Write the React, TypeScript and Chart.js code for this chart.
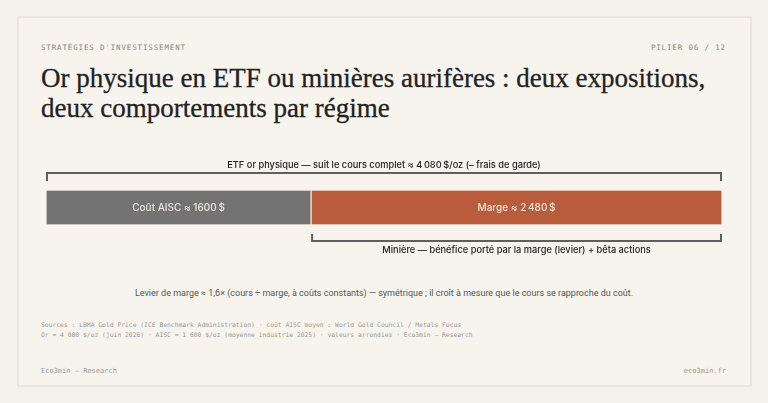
import React, { useEffect, useRef } from "react";
import { Chart, registerables } from "chart.js";

Chart.register(...registerables);

const segmentLabels = ["Coût AISC ≈ 1600\u202F$", "Marge ≈ 2\u202F480\u202F$"];
const segmentValues = [1600, 2480];
const segmentColors = ["#737373", "#b85c3c"];
const goldPrice = 4080;
const topBracketLabel = "ETF or physique — suit le cours complet ≈ 4\u202F080\u202F$/oz (– frais de garde)";
const bottomBracketLabel = "Minière — bénéfice porté par la marge (levier) + bêta actions";

const SANS = "Inter, 'Noto Sans', sans-serif";
const MONO = "'DejaVu Sans Mono', 'Liberation Mono', monospace";

const annotPlugin = {
  id: "annot",
  afterDatasetsDraw(chart: any) {
    const ctx = chart.ctx;
    const x = chart.scales.x;
    const area = chart.chartArea;
    ctx.save();
    ctx.font = `500 10px ${SANS}`;
    ctx.textAlign = "center";
    ctx.textBaseline = "middle";
    ctx.fillStyle = "#ece4da";
    let acc = 0;
    segmentValues.forEach((v, i) => {
      const cx = (x.getPixelForValue(acc) + x.getPixelForValue(acc + v)) / 2;
      ctx.fillText(segmentLabels[i], cx, (area.top + area.bottom) / 2);
      acc += v;
    });
    ctx.strokeStyle = "#5e5e5e";
    ctx.lineWidth = 2;
    ctx.lineCap = "butt";
    const x0 = x.getPixelForValue(0);
    const x1 = x.getPixelForValue(goldPrice);
    const xm = x.getPixelForValue(segmentValues[0]);
    const yt = area.top - 17;
    ctx.beginPath();
    ctx.moveTo(x0 + 1, yt + 8);
    ctx.lineTo(x0 + 1, yt);
    ctx.lineTo(x1 - 1, yt);
    ctx.lineTo(x1 - 1, yt + 8);
    ctx.stroke();
    const yb = area.bottom + 16;
    ctx.beginPath();
    ctx.moveTo(xm + 1, yb - 7);
    ctx.lineTo(xm + 1, yb);
    ctx.lineTo(x1 - 1, yb);
    ctx.lineTo(x1 - 1, yb - 7);
    ctx.stroke();
    ctx.fillStyle = "#222222";
    ctx.font = `500 9.25px ${SANS}`;
    ctx.fillText(topBracketLabel, (x0 + x1) / 2, yt - 8);
    ctx.fillText(bottomBracketLabel, (xm + x1) / 2, yb + 9);
    ctx.restore();
  },
};

function BarChart() {
  const ref = useRef<HTMLCanvasElement>(null);
  useEffect(() => {
    if (!ref.current) return;
    const chart = new Chart(ref.current, {
      type: "bar",
      data: {
        labels: ["Or"],
        datasets: segmentValues.map((v, i) => ({
          label: segmentLabels[i],
          data: [v],
          backgroundColor: segmentColors[i],
          borderColor: "#ece5db",
          borderWidth: 1,
          borderSkipped: false,
          barPercentage: 1,
          categoryPercentage: 1,
        })),
      },
      options: {
        indexAxis: "y",
        animation: false,
        responsive: false,
        maintainAspectRatio: false,
        layout: { padding: { left: 16, right: 16, top: 40, bottom: 40 } },
        scales: {
          x: { stacked: true, display: false, min: 0, max: goldPrice },
          y: { stacked: true, display: false },
        },
        plugins: { legend: { display: false }, tooltip: { enabled: false } },
      },
      plugins: [annotPlugin],
    });
    return () => chart.destroy();
  }, []);
  return (
    <canvas
      ref={ref}
      width={708}
      height={115}
      style={{ position: "absolute", left: 30, top: 150, width: 708, height: 115 }}
    />
  );
}

export default function App() {
  const mono = (size: number, color: string, extra: any = {}) => ({
    position: "absolute" as const,
    fontFamily: MONO,
    fontSize: size,
    color,
    whiteSpace: "nowrap" as const,
    ...extra,
  });
  return (
    <div style={{ position: "fixed", left: 0, top: 0, width: 768, height: 403, background: "#f4f1ea", overflow: "hidden" }}>
      <div
        style={{
          position: "absolute",
          left: 17,
          top: 16,
          width: 731,
          height: 367,
          background: "#f7f4ee",
          border: "2px solid #ebe6dc",
        }}
      />
      <div style={mono(7.5, "#8a857e", { left: 41, top: 43, letterSpacing: 0.85 })}>STRATÉGIES D'INVESTISSEMENT</div>
      <div style={mono(7.5, "#8a857e", { right: 42, top: 43, letterSpacing: 0.85 })}>PILIER 06 / 12</div>
      <div
        style={{
          position: "absolute",
          left: 41,
          top: 63,
          fontFamily: "'Liberation Serif', 'DejaVu Serif', serif",
          fontSize: 27,
          lineHeight: "30px",
          color: "#222222",
          whiteSpace: "nowrap",
          WebkitTextStroke: "0.3px #222222",
        }}
      >
        Or physique en ETF ou minières aurifères : deux expositions,
        <br />
        deux comportements par régime
      </div>
      <BarChart />
      <div
        style={{
          position: "absolute",
          left: 0,
          width: 768,
          top: 288,
          textAlign: "center",
          fontFamily: "Roboto, sans-serif",
          fontSize: 9,
          color: "#555555",
          whiteSpace: "nowrap",
        }}
      >
        Levier de marge ≈ 1,6× (cours ÷ marge, à coûts constants) — symétrique ; il croît à mesure que le cours se rapproche du coût.
      </div>
      <div style={mono(6.35, "#9a9893", { left: 41, top: 321 })}>
        Sources : LBMA Gold Price (ICE Benchmark Administration) · coût AISC moyen : World Gold Council / Metals Focus
      </div>
      <div style={mono(6.35, "#9a9893", { left: 41, top: 331 })}>
        Or ≈ 4 080 $/oz (juin 2026) · AISC ≈ 1 600 $/oz (moyenne industrie 2025) · valeurs arrondies · Eco3min — Research
      </div>
      <div style={mono(7, "#9a9893", { left: 41, top: 367 })}>Eco3min — Research</div>
      <div style={mono(7, "#9a9893", { right: 42, top: 367 })}>eco3min.fr</div>
    </div>
  );
}
